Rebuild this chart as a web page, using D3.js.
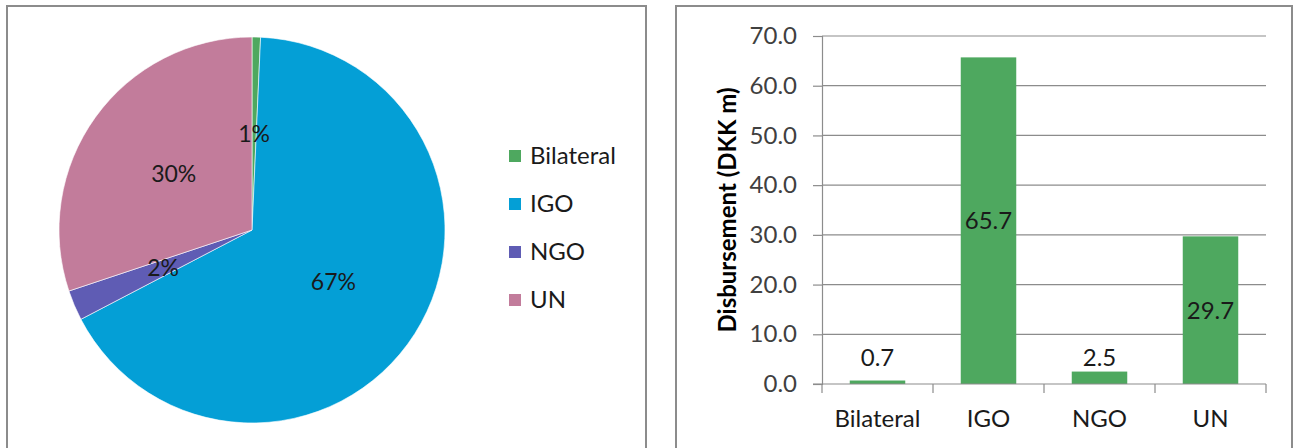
<!doctype html>
<html>
<head>
<meta charset="utf-8">
<script src="https://cdn.jsdelivr.net/npm/d3@7"></script>
<style>
    html, body { margin: 0; padding: 0; background: #fff; }
    svg { display: block; font-family: Lato, "Open Sans", sans-serif; }
</style>
</head>
<body>
<svg id="chart" width="1295" height="448"></svg>
<script>
    // data
    var categories = ["Bilateral", "IGO", "NGO", "UN"];
    var disbursement = [0.7, 65.7, 2.5, 29.7];
    var pieLabels = ["1%", "67%", "2%", "30%"];   // as printed on the pie
    var sliceColors = ["#4ea85f", "#049fd6", "#5f5cb4", "#c27c9b"];
    var yTicks = [0, 10, 20, 30, 40, 50, 60, 70];

    var svg = d3.select("#chart");

    // panel frames
    svg.append("rect").attr("x", 7).attr("y", 6).attr("width", 639).attr("height", 470)
        .attr("fill", "none").attr("stroke", "#8c8c8c").attr("stroke-width", 2);
    svg.append("rect").attr("x", 676).attr("y", 6).attr("width", 616).attr("height", 470)
        .attr("fill", "none").attr("stroke", "#8c8c8c").attr("stroke-width", 2);

    // ---------- pie ----------
    var pie = d3.pie().sort(null).value(function(d){ return d; });
    var arc = d3.arc().innerRadius(0).outerRadius(193);
    var pieG = svg.append("g").attr("transform", "translate(252,230)");
    var arcs = pie(disbursement);

    pieG.selectAll("path").data(arcs).enter().append("path")
        .attr("d", arc)
        .attr("fill", function(d, i){ return sliceColors[i]; })
        .attr("stroke", "#fff").attr("stroke-width", 0.6);

    pieG.selectAll("text").data(arcs).enter().append("text")
        .attr("transform", function(d){ return "translate(" + arc.centroid(d) + ")"; })
        .attr("text-anchor", "middle").attr("dy", "0.35em")
        .attr("font-size", 23).attr("fill", "#1a1a1a")
        .text(function(d, i){ return pieLabels[i]; });

    // legend
    var legend = svg.append("g").selectAll("g").data(categories).enter().append("g")
        .attr("transform", function(d, i){ return "translate(509," + (156 + i * 48) + ")"; });
    legend.append("rect").attr("x", 0).attr("y", -6).attr("width", 12).attr("height", 12)
        .attr("fill", function(d, i){ return sliceColors[i]; });
    legend.append("text").attr("x", 21).attr("dy", "0.35em")
        .attr("font-size", 24).attr("fill", "#1a1a1a")
        .text(function(d){ return d; });

    // ---------- bars ----------
    var x = d3.scaleBand().domain(categories).range([822, 1266]).paddingInner(0.5).paddingOuter(0.25);
    var y = d3.scaleLinear().domain([0, 70]).range([384, 36]);

    var barG = svg.append("g");

    barG.selectAll("line.grid").data(yTicks.slice(1)).enter().append("line")
        .attr("class", "grid")
        .attr("x1", 822).attr("x2", 1266)
        .attr("y1", function(d){ return y(d); }).attr("y2", function(d){ return y(d); })
        .attr("stroke", "#8c8c8c").attr("stroke-width", 1.2);

    var yAxis = barG.append("g").attr("transform", "translate(822,0)")
        .call(d3.axisLeft(y).tickValues(yTicks).tickFormat(d3.format(".1f")).tickSize(9).tickPadding(16));
    yAxis.select(".domain").attr("stroke", "#8c8c8c").attr("stroke-width", 1.2);
    yAxis.selectAll(".tick line").attr("stroke", "#8c8c8c").attr("stroke-width", 1.2);
    yAxis.selectAll(".tick text").attr("font-size", 24).attr("fill", "#404040")
        .attr("font-family", "Lato, sans-serif");

    barG.selectAll("rect.bar").data(disbursement).enter().append("rect")
        .attr("class", "bar")
        .attr("x", function(d, i){ return x(categories[i]); })
        .attr("width", x.bandwidth())
        .attr("y", function(d){ return y(d); })
        .attr("height", function(d){ return y(0) - y(d); })
        .attr("fill", "#4ea85f");

    // category axis
    barG.append("line").attr("x1", 813).attr("x2", 1266).attr("y1", 384).attr("y2", 384)
        .attr("stroke", "#8c8c8c").attr("stroke-width", 1.2);
    var bounds = [822].concat(categories.map(function(c){ return x(c) + x.bandwidth() / 2 + x.step() / 2; }));
    barG.selectAll("line.xtick").data(bounds).enter().append("line")
        .attr("class", "xtick")
        .attr("x1", function(d){ return d; }).attr("x2", function(d){ return d; })
        .attr("y1", 384).attr("y2", 393)
        .attr("stroke", "#8c8c8c").attr("stroke-width", 1.2);
    barG.selectAll("text.cat").data(categories).enter().append("text")
        .attr("class", "cat")
        .attr("x", function(d){ return x(d) + x.bandwidth() / 2; })
        .attr("y", 419).attr("dy", "0.35em")
        .attr("text-anchor", "middle").attr("font-size", 24).attr("fill", "#1a1a1a")
        .text(function(d){ return d; });

    // value labels
    barG.selectAll("text.val").data(disbursement).enter().append("text")
        .attr("class", "val")
        .attr("x", function(d, i){ return x(categories[i]) + x.bandwidth() / 2; })
        .attr("y", function(d){ return Math.min((y(d) + y(0)) / 2, y(0) - 26); })
        .attr("dy", "0.35em").attr("text-anchor", "middle")
        .attr("font-size", 24).attr("fill", "#1a1a1a")
        .text(function(d){ return d3.format(".1f")(d); });

    // y title
    svg.append("text")
        .attr("transform", "translate(728,210) rotate(-90)")
        .attr("text-anchor", "middle").attr("dy", "0.35em")
        .attr("font-size", 24).attr("font-weight", "bold").attr("fill", "#000")
        .text("Disbursement (DKK m)");
</script>
</body>
</html>
